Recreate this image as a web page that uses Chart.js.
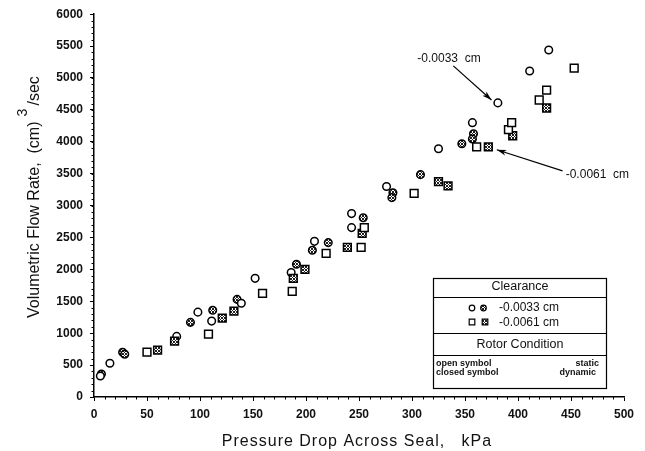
<!DOCTYPE html>
<html>
<head>
<meta charset="utf-8">
<script src="https://cdn.jsdelivr.net/npm/chart.js@4.4.0/dist/chart.umd.min.js"></script>
<style>
  html, body { margin: 0; padding: 0; background: #fff; }
  #wrap { width: 645px; height: 451px; }
</style>
</head>
<body>
<div id="wrap"><canvas id="seal" width="645" height="451"></canvas></div>
<script>
// clearance -0.0033 cm, static rotor (open circles)
const openCircleP = [6, 15, 78, 98, 111, 139, 152, 186, 208, 243, 243, 276, 325, 357, 381, 411, 429];
const openCircleQ = [330, 530, 950, 1330, 1190, 1470, 1860, 1950, 2440, 2875, 2655, 3300, 3890, 4300, 4610, 5110, 5440];
// clearance -0.0033 cm, dynamic rotor (closed circles)
const closedCircleP = [7, 27, 29, 91, 112, 135, 191, 206, 221, 254, 282, 281, 308, 347, 358, 357];
const closedCircleQ = [360, 700, 670, 1170, 1360, 1530, 2080, 2300, 2420, 2810, 3200, 3125, 3485, 3970, 4125, 4045];
// clearance -0.0061 cm, static rotor (open squares)
const openSquareP = [50, 108, 159, 187, 219, 252, 255, 302, 361, 391, 394, 420, 427, 453];
const openSquareQ = [705, 985, 1625, 1655, 2250, 2345, 2655, 3190, 3920, 4190, 4300, 4655, 4810, 5155];
// clearance -0.0061 cm, dynamic rotor (closed squares)
const closedSquareP = [60, 76, 121, 132, 188, 199, 239, 253, 325, 334, 372, 395, 427];
const closedSquareQ = [735, 875, 1235, 1345, 1860, 2000, 2345, 2565, 3375, 3310, 3920, 4095, 4530];

const xTicks = [0, 50, 100, 150, 200, 250, 300, 350, 400, 450, 500];
const yTicks = [0, 500, 1000, 1500, 2000, 2500, 3000, 3500, 4000, 4500, 5000, 5500, 6000];

const FONT = "'Liberation Sans', Arial, sans-serif";

// hatched fill for the closed symbols
const hatch = (() => {
  const c = document.createElement("canvas");
  c.width = 3; c.height = 3;
  const g = c.getContext("2d");
  g.fillStyle = "#fff";
  g.fillRect(0, 0, 3, 3);
  g.fillStyle = "#222";
  [[0, 0], [1, 1], [2, 2], [2, 0], [0, 2]].forEach(([a, b]) => g.fillRect(a, b, 1, 1));
  return g.createPattern(c, "repeat");
})();

const pts = (xs, ys) => xs.map((v, i) => ({ x: v, y: ys[i] }));

const series = (data, style, fill, r) => ({
  data: data,
  pointStyle: style,
  pointRadius: r,
  pointBackgroundColor: fill,
  pointBorderColor: "#000",
  pointBorderWidth: 1.5,
  showLine: false,
});

const drawMark = (ctx, style, fill, x, y, s) => {
  ctx.beginPath();
  if (style === "circle") ctx.arc(x, y, s, 0, Math.PI * 2);
  else ctx.rect(x - s, y - s, s * 2, s * 2);
  ctx.fillStyle = fill;
  ctx.fill();
  ctx.lineWidth = 1.2;
  ctx.strokeStyle = "#000";
  ctx.stroke();
};

const arrow = (ctx, x0, y0, x1, y1) => {
  ctx.beginPath();
  ctx.moveTo(x0, y0);
  ctx.lineTo(x1, y1);
  ctx.lineWidth = 1.2;
  ctx.strokeStyle = "#000";
  ctx.stroke();
  const ang = Math.atan2(y1 - y0, x1 - x0);
  const len = 10, half = 0.3;
  ctx.beginPath();
  ctx.moveTo(x1, y1);
  ctx.lineTo(x1 - len * Math.cos(ang - half), y1 - len * Math.sin(ang - half));
  ctx.lineTo(x1 - len * 0.7 * Math.cos(ang), y1 - len * 0.7 * Math.sin(ang));
  ctx.lineTo(x1 - len * Math.cos(ang + half), y1 - len * Math.sin(ang + half));
  ctx.closePath();
  ctx.fillStyle = "#000";
  ctx.fill();
};

const overlay = {
  id: "overlay",
  afterDraw(chart) {
    const { ctx, chartArea: a, scales: { x, y } } = chart;
    ctx.save();

    // minor ticks
    ctx.strokeStyle = "#000";
    ctx.lineWidth = 1;
    for (let v = 10; v < 500; v += 10) {
      const px = Math.round(x.getPixelForValue(v)) + 0.5;
      ctx.beginPath();
      ctx.moveTo(px, a.bottom);
      ctx.lineTo(px, a.bottom + 2.5);
      ctx.stroke();
    }
    for (let v = 100; v < 6000; v += 100) {
      const py = Math.round(y.getPixelForValue(v)) + 0.5;
      ctx.beginPath();
      ctx.moveTo(a.left - 2.5, py);
      ctx.lineTo(a.left, py);
      ctx.stroke();
    }

    // axis titles
    ctx.fillStyle = "#111";
    ctx.font = "16px " + FONT;
    ctx.textBaseline = "middle";
    ctx.textAlign = "center";
    ctx.letterSpacing = "1px";
    ctx.fillText("Pressure Drop Across Seal,   kPa", 357, 442);
    ctx.letterSpacing = "0px";

    ctx.save();
    ctx.translate(35, 318);
    ctx.rotate(-Math.PI / 2);
    ctx.textAlign = "left";
    const main = "Volumetric Flow Rate,  (cm)";
    ctx.fillText(main, 0, 0);
    const w = ctx.measureText(main).width;
    ctx.font = "14px " + FONT;
    ctx.fillText("3", w + 5, -12);
    ctx.font = "16px " + FONT;
    ctx.fillText("/sec", w + 16, 0);
    ctx.restore();

    // annotations
    ctx.font = "12px " + FONT;
    ctx.textAlign = "left";
    ctx.fillText("-0.0033  cm", x.getPixelForValue(305), y.getPixelForValue(5310));
    arrow(ctx, x.getPixelForValue(339), y.getPixelForValue(5190), x.getPixelForValue(375), y.getPixelForValue(4655));
    ctx.fillStyle = "#111";
    ctx.fillText("-0.0061  cm", x.getPixelForValue(445), y.getPixelForValue(3485));
    arrow(ctx, x.getPixelForValue(442), y.getPixelForValue(3545), x.getPixelForValue(380), y.getPixelForValue(3875));

    // legend box
    const L = 433.5, R = 606.5, T = 278.5, B = 388.5, C = (L + R) / 2;
    ctx.strokeStyle = "#000";
    ctx.lineWidth = 1.2;
    ctx.strokeRect(L, T, R - L, B - T);
    [297.5, 333.5, 355.5].forEach((ly) => {
      ctx.beginPath();
      ctx.moveTo(L, ly);
      ctx.lineTo(R, ly);
      ctx.stroke();
    });
    ctx.fillStyle = "#111";
    ctx.font = "12.5px " + FONT;
    ctx.textAlign = "center";
    ctx.fillText("Clearance", C, 287);
    ctx.fillText("Rotor Condition", C, 344.5);
    ctx.textAlign = "left";
    ctx.font = "12px " + FONT;
    ctx.fillText("-0.0033 cm", 499, 308);
    ctx.fillText("-0.0061 cm", 499, 322.5);
    drawMark(ctx, "circle", "#fff", 472, 308, 2.8);
    drawMark(ctx, "circle", hatch, 483.5, 308, 2.8);
    drawMark(ctx, "rect", "#fff", 472, 322, 2.8);
    drawMark(ctx, "rect", hatch, 485, 322, 2.8);
    ctx.fillStyle = "#111";
    ctx.font = "bold 9px " + FONT;
    ctx.fillText("open symbol", 436, 364);
    ctx.fillText("closed symbol", 436, 373);
    ctx.textAlign = "right";
    ctx.fillText("static", 599, 364);
    ctx.fillText("dynamic", 596, 373);

    ctx.restore();
  },
};

new Chart(document.getElementById("seal"), {
  type: "scatter",
  data: {
    datasets: [
      series(pts(openSquareP, openSquareQ), "rect", "#fff", 5.5),
      series(pts(closedSquareP, closedSquareQ), "rect", hatch, 5.5),
      series(pts(openCircleP, openCircleQ), "circle", "#fff", 3.8),
      series(pts(closedCircleP, closedCircleQ), "circle", hatch, 3.8),
    ],
  },
  options: {
    responsive: false,
    animation: false,
    events: [],
    layout: { padding: { top: 13, right: 21, left: 0, bottom: 0 } },
    plugins: { legend: { display: false }, tooltip: { enabled: false } },
    scales: {
      x: {
        type: "linear",
        min: 0,
        max: 500,
        afterBuildTicks: (s) => { s.ticks = xTicks.map((v) => ({ value: v })); },
        afterFit: (s) => { s.height = 54; },
        border: { display: true, color: "#000", width: 1.5 },
        grid: { drawOnChartArea: false, drawTicks: true, tickLength: 4, color: "#000" },
        ticks: {
          color: "#111",
          padding: 6,
          maxRotation: 0,
          callback: (v) => String(v),
          font: { family: FONT, size: 12, weight: "bold" },
        },
      },
      y: {
        type: "linear",
        min: 0,
        max: 6000,
        afterBuildTicks: (s) => { s.ticks = yTicks.map((v) => ({ value: v })); },
        afterFit: (s) => { s.width = 94; },
        border: { display: true, color: "#000", width: 1.5 },
        grid: { drawOnChartArea: false, drawTicks: true, tickLength: 4, color: "#000" },
        ticks: {
          color: "#111",
          padding: 7,
          callback: (v) => String(v),
          font: { family: FONT, size: 12, weight: "bold" },
        },
      },
    },
  },
  plugins: [overlay],
});
</script>
</body>
</html>
